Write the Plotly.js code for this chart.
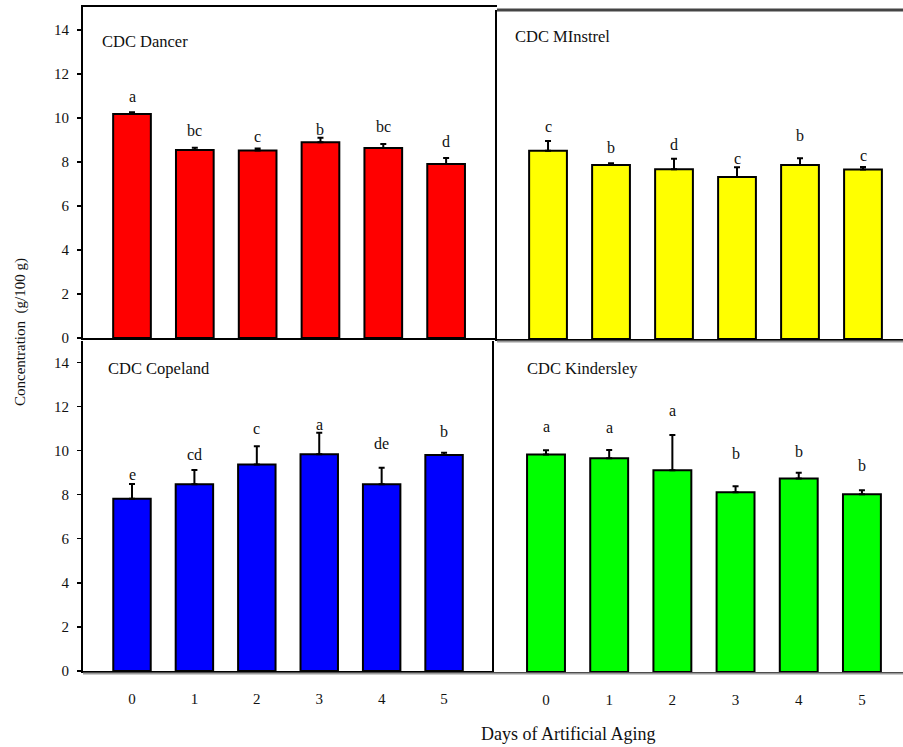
<!DOCTYPE html>
<html>
<head>
<meta charset="utf-8">
<script src="https://cdn.plot.ly/plotly-3.0.1.min.js"></script>
<style>
  html, body { margin: 0; padding: 0; background: #fff; }
  #chart { width: 903px; height: 747px; }
</style>
</head>
<body>
<div id="chart"></div>
<script>
// Days of artificial aging (x categories)
const days = [0, 1, 2, 3, 4, 5];
const dayLabels = ['0', '1', '2', '3', '4', '5'];
const yTicks = [0, 2, 4, 6, 8, 10, 12, 14];

// Cultivar names
const cultivars = ['CDC Dancer', 'CDC MInstrel', 'CDC Copeland', 'CDC Kindersley'];

// Mean concentration (g/100 g) and standard error per day
const dancer = [10.18, 8.55, 8.53, 8.90, 8.64, 7.91];
const dancerErr = [0.08, 0.10, 0.09, 0.20, 0.18, 0.27];
const dancerLetters = ['a', 'bc', 'c', 'b', 'bc', 'd'];
const dancerLetterY = [11.0, 9.42, 9.18, 9.5, 9.6, 8.95];

const minstrel = [8.55, 7.91, 7.71, 7.36, 7.91, 7.70];
const minstrelErr = [0.45, 0.08, 0.48, 0.45, 0.30, 0.12];
const minstrelLetters = ['c', 'b', 'd', 'c', 'b', 'c'];
const minstrelLetterY = [9.64, 8.7, 8.85, 8.2, 9.23, 8.36];

const copeland = [7.81, 8.47, 9.37, 9.83, 8.47, 9.80];
const copelandErr = [0.67, 0.65, 0.82, 0.98, 0.75, 0.10];
const copelandLetters = ['e', 'cd', 'c', 'a', 'de', 'b'];
const copelandLetterY = [8.9, 9.84, 11.0, 11.2, 10.3, 10.85];

const kindersley = [9.86, 9.69, 9.15, 8.15, 8.78, 8.06];
const kindersleyErr = [0.20, 0.38, 1.60, 0.27, 0.26, 0.18];
const kindersleyLetters = ['a', 'a', 'a', 'b', 'b', 'b'];
const kindersleyLetterY = [11.12, 11.08, 11.88, 9.92, 10.0, 9.36];

const W = 903, H = 747;
const FONT = 'Liberation Serif, Times New Roman, serif';
const px = v => v / W;
const py = v => 1 - v / H;

const panels = [
  { name: cultivars[0], y: dancer, err: dancerErr, letters: dancerLetters, ly: dancerLetterY,
    color: '#ff0000', ax: '', title: [100, 41] },
  { name: cultivars[1], y: minstrel, err: minstrelErr, letters: minstrelLetters, ly: minstrelLetterY,
    color: '#ffff00', ax: '2', title: [513, 37] },
  { name: cultivars[2], y: copeland, err: copelandErr, letters: copelandLetters, ly: copelandLetterY,
    color: '#0000ff', ax: '3', title: [106, 369] },
  { name: cultivars[3], y: kindersley, err: kindersleyErr, letters: kindersleyLetters, ly: kindersleyLetterY,
    color: '#00ff00', ax: '4', title: [525, 369] }
];

const traces = panels.map(p => ({
  type: 'bar',
  x: days,
  y: p.y,
  xaxis: 'x' + p.ax,
  yaxis: 'y' + p.ax,
  marker: { color: p.color, line: { color: '#000', width: 2 } },
  error_y: {
    type: 'data', symmetric: false, array: p.err, arrayminus: p.err.map(() => 0),
    color: '#000', thickness: 2, width: 3
  },
  showlegend: false,
  hoverinfo: 'skip'
}));

const annotations = [];
panels.forEach(p => {
  p.letters.forEach((t, i) => {
    annotations.push({
      xref: 'x' + p.ax, yref: 'y' + p.ax, x: days[i], y: p.ly[i],
      text: t, showarrow: false, xanchor: 'center', yanchor: 'middle',
      font: { family: FONT, size: 16, color: '#111' }
    });
  });
  annotations.push({
    xref: 'paper', yref: 'paper', x: px(p.title[0]), y: py(p.title[1]),
    text: p.name, showarrow: false, xanchor: 'left', yanchor: 'middle',
    font: { family: FONT, size: 16.5, color: '#111' }
  });
});

// Shared axis titles
annotations.push({
  xref: 'paper', yref: 'paper', x: px(20), y: py(332),
  text: 'Concentration  (g/100 g)', textangle: -90, showarrow: false,
  xanchor: 'center', yanchor: 'middle',
  font: { family: FONT, size: 15, color: '#111' }
});
annotations.push({
  xref: 'paper', yref: 'paper', x: px(568), y: py(734),
  text: 'Days of Artificial Aging', showarrow: false,
  xanchor: 'center', yanchor: 'middle',
  font: { family: FONT, size: 18, color: '#111' }
});

const xBase = {
  tickvals: days, ticktext: dayLabels, ticks: '', showgrid: false, zeroline: false,
  showline: true, linecolor: '#000', linewidth: 2,
  tickfont: { family: FONT, size: 15, color: '#111' }, fixedrange: true
};
const yBase = {
  tickvals: yTicks, showgrid: false, zeroline: false,
  showline: true, linecolor: '#000', linewidth: 2,
  tickfont: { family: FONT, size: 15, color: '#111' }, fixedrange: true
};

const layout = {
  width: W, height: H,
  margin: { l: 0, r: 0, t: 0, b: 0 },
  paper_bgcolor: '#fff', plot_bgcolor: '#fff',
  bargap: 0.4,
  xaxis:  Object.assign({}, xBase, { domain: [px(83), px(497)], range: [-0.78, 5.81],
    anchor: 'y', showticklabels: false, mirror: true }),
  yaxis:  Object.assign({}, yBase, { domain: [py(338), py(7)], range: [0, 15.05],
    anchor: 'x', ticks: 'outside', ticklen: 4, tickwidth: 1.5, tickcolor: '#000', ticklabelstandoff: 5 }),
  xaxis2: Object.assign({}, xBase, { domain: [px(497), 1], range: [-0.81, 5.635],
    anchor: 'y2', showticklabels: false }),
  yaxis2: Object.assign({}, yBase, { domain: [py(339), py(10)], range: [0, 14.95],
    anchor: 'x2', showticklabels: false, ticks: '' }),
  xaxis3: Object.assign({}, xBase, { domain: [px(83), px(494)], range: [-0.785, 5.80],
    anchor: 'y3', ticklabelstandoff: 13 }),
  yaxis3: Object.assign({}, yBase, { domain: [py(671), py(341)], range: [0, 14.97],
    anchor: 'x3', ticks: 'outside', ticklen: 4, tickwidth: 1.5, tickcolor: '#000', ticklabelstandoff: 5 }),
  xaxis4: Object.assign({}, xBase, { domain: [px(494), 1], range: [-0.823, 5.65],
    anchor: 'y4', ticklabelstandoff: 13 }),
  yaxis4: Object.assign({}, yBase, { domain: [py(672), py(341)], range: [0, 15.01],
    anchor: 'x4', showticklabels: false, ticks: '' }),
  annotations: annotations,
  shapes: [
    // frame top of the right-hand panels
    { type: 'line', xref: 'paper', yref: 'paper', x0: px(497), x1: 1, y0: py(10), y1: py(10),
      line: { color: '#444', width: 3 } },
    // grey under-rules beneath the baselines
    { type: 'line', xref: 'paper', yref: 'paper', x0: px(497), x1: 1, y0: py(341.5), y1: py(341.5),
      line: { color: '#999', width: 2 } },
    { type: 'line', xref: 'paper', yref: 'paper', x0: px(83), x1: 1, y0: py(673.5), y1: py(673.5),
      line: { color: '#999', width: 2 } }
  ]
};

Plotly.newPlot('chart', traces, layout, { displayModeBar: false, staticPlot: true });
</script>
</body>
</html>
